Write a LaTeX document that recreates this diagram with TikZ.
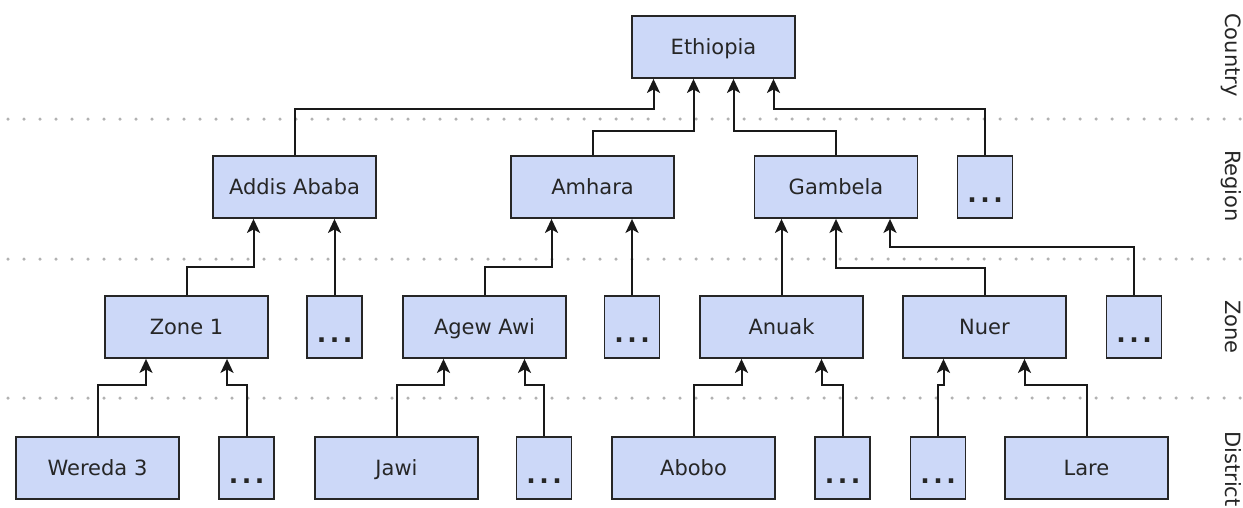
\documentclass[tikz,border=0pt]{standalone}
\usepackage{fontspec}
\setmainfont{DejaVu Sans}
\usetikzlibrary{arrows.meta}
\definecolor{boxfill}{HTML}{CCD8F8}
\definecolor{inktext}{HTML}{262626}
% spaced-out ellipsis used in the "more" boxes
\newcommand{\moredots}{.\kern3.5pt.\kern3.5pt.}
\begin{document}
\begin{tikzpicture}[x=1pt,y=-1pt,
  box/.style={draw=black!85, fill=boxfill, line width=1.8pt,
    minimum width=163pt, minimum height=62pt, inner sep=0pt,
    text height=20pt, text depth=4.7pt,
    font=\fontsize{21}{25}\selectfont, text=inktext},
  more/.style={box, minimum width=55pt, text height=30pt, text depth=0pt,
    font=\fontsize{25}{30}\bfseries\selectfont},
  conn/.style={draw=black!90, line width=2pt,
    -{Stealth[length=14pt,width=13pt,inset=3.5pt]}},
  levelsep/.style={draw=black!30, line width=3.5pt, line cap=round,
    dash pattern=on 0pt off 16pt},
  levellabel/.style={rotate=-90, anchor=base,
    font=\fontsize{21}{25}\selectfont, text=inktext}
]
\useasboundingbox (0,0) rectangle (1243,507);

% separators between the levels
\draw[levelsep] (8,119) -- (1243,119);
\draw[levelsep] (8,259) -- (1243,259);
\draw[levelsep] (8,398) -- (1243,398);

% level names
\node[levellabel] (lcountry) at (1225,55) {Country};
\node[levellabel] (lregion) at (1225,186) {Region};
\node[levellabel] (lzone) at (1225,327) {Zone};
\node[levellabel] (ldistrict) at (1225,469) {District};

% country
\node[box] (eth) at (713.5,47) {Ethiopia};

% regions
\node[box] (addis) at (294.5,187) {Addis Ababa};
\node[box] (amhara) at (592.5,187) {Amhara};
\node[box] (gambela) at (836,187) {Gambela};
\node[more] (rmore) at (985,187) {\moredots};

% zones
\node[box] (zone1) at (186.5,327) {Zone 1};
\node[more] (zmoreA) at (334.5,327) {\moredots};
\node[box] (agew) at (484.5,327) {Agew Awi};
\node[more] (zmoreB) at (632,327) {\moredots};
\node[box] (anuak) at (781.5,327) {Anuak};
\node[box] (nuer) at (984.5,327) {Nuer};
\node[more] (zmoreC) at (1134,327) {\moredots};

% districts
\node[box] (wereda) at (97.5,468) {Wereda 3};
\node[more] (dmoreA) at (246.5,468) {\moredots};
\node[box] (jawi) at (396.5,468) {Jawi};
\node[more] (dmoreB) at (544,468) {\moredots};
\node[box] (abobo) at (693.5,468) {Abobo};
\node[more] (dmoreC) at (842.5,468) {\moredots};
\node[more] (dmoreD) at (938,468) {\moredots};
\node[box] (lare) at (1086.5,468) {Lare};

% regions -> country
\draw[conn] (addis.north) -- ++(0,-46) -| ([xshift=-60pt]eth.south);
\draw[conn] (amhara.north) -- ++(0,-24) -| ([xshift=-20pt]eth.south);
\draw[conn] (gambela.north) -- ++(0,-24) -| ([xshift=20pt]eth.south);
\draw[conn] (rmore.north) -- ++(0,-46) -| ([xshift=60pt]eth.south);

% zones -> regions
\draw[conn] (zone1.north) -- ++(0,-28) -| ([xshift=-41pt]addis.south);
\draw[conn] (zmoreA.north) -- (zmoreA.north |- addis.south);
\draw[conn] (agew.north) -- ++(0,-28) -| ([xshift=-41pt]amhara.south);
\draw[conn] (zmoreB.north) -- (zmoreB.north |- amhara.south);
\draw[conn] (anuak.north) -- (anuak.north |- gambela.south);
\draw[conn] (nuer.north) -- ++(0,-27) -| (gambela.south);
\draw[conn] (zmoreC.north) -- ++(0,-48) -| ([xshift=54pt]gambela.south);

% districts -> zones
\draw[conn] (wereda.north) -- ++(0,-51) -| ([xshift=-40.5pt]zone1.south);
\draw[conn] (dmoreA.north) -- ++(0,-51) -| ([xshift=40.5pt]zone1.south);
\draw[conn] (jawi.north) -- ++(0,-51) -| ([xshift=-41pt]agew.south);
\draw[conn] (dmoreB.north) -- ++(0,-51) -| ([xshift=40pt]agew.south);
\draw[conn] (abobo.north) -- ++(0,-51) -| ([xshift=-40pt]anuak.south);
\draw[conn] (dmoreC.north) -- ++(0,-51) -| ([xshift=40pt]anuak.south);
\draw[conn] (dmoreD.north) -- ++(0,-51) -| ([xshift=-41pt]nuer.south);
\draw[conn] (lare.north) -- ++(0,-51) -| ([xshift=40pt]nuer.south);
\end{tikzpicture}
\end{document}
